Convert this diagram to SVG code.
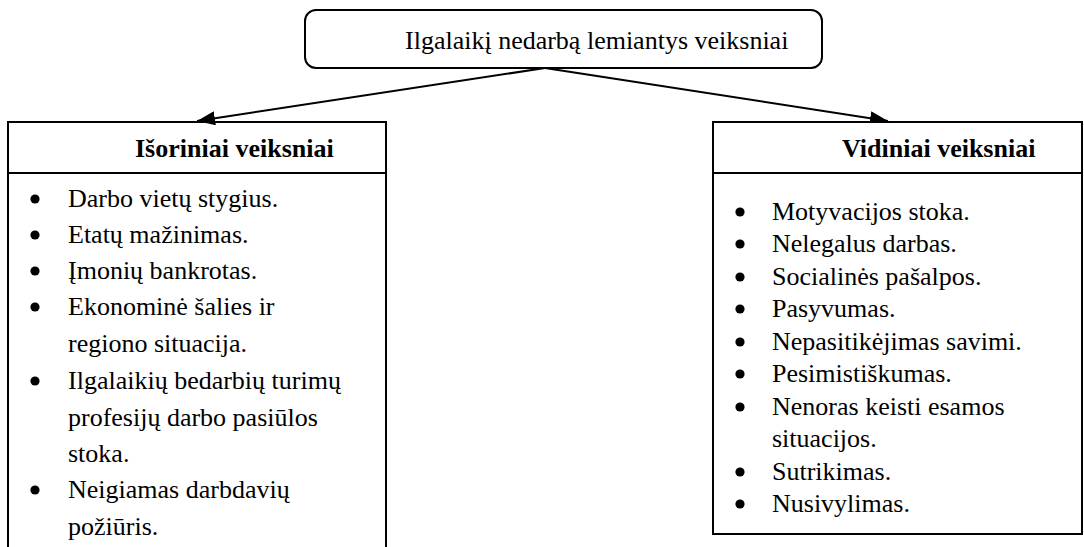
<svg xmlns="http://www.w3.org/2000/svg" width="1084" height="547" viewBox="0 0 1084 547">
  <defs>
    <marker id="arrow" viewBox="0 0 18 14" refX="18" refY="7" markerWidth="18" markerHeight="14" markerUnits="userSpaceOnUse" orient="auto">
      <path d="M0,0 L18,7 L0,14 Z" fill="#000"/>
    </marker>
    <circle id="dot" r="4.6" fill="#000"/>
    <style>
      text { font-family: "Liberation Serif", "Times New Roman", serif; font-size: 26px; fill: #000; }
      .head { font-weight: bold; }
      .box { fill: #fff; stroke: #000; stroke-width: 2; }
      .rule { stroke: #000; stroke-width: 2; fill: none; }
      .edge { stroke: #000; stroke-width: 2; fill: none; marker-end: url(#arrow); }
    </style>
  </defs>
  <rect width="1084" height="547" fill="#fff"/>

  <!-- root node -->
  <g id="root">
    <rect class="box" x="305" y="10" width="517" height="58" rx="11" ry="11"/>
    <text x="405" y="49">Ilgalaikį nedarbą lemiantys veiksniai</text>
  </g>

  <!-- connectors -->
  <g id="connectors">
    <line class="edge" x1="545" y1="68" x2="197" y2="121"/>
    <line class="edge" x1="545" y1="68" x2="888" y2="121"/>
  </g>

  <!-- external factors (box runs past the lower edge) -->
  <g id="external">
    <path class="rule" d="M8,560 V122 H386 V560"/>
    <line class="rule" x1="8" y1="173" x2="386" y2="173"/>
    <text class="head" x="135" y="157">Išoriniai veiksniai</text>
    <g>
      <use href="#dot" x="35" y="199"/><text x="68" y="207">Darbo vietų stygius.</text>
      <use href="#dot" x="35" y="235"/><text x="68" y="243">Etatų mažinimas.</text>
      <use href="#dot" x="35" y="271"/><text x="68" y="279">Įmonių bankrotas.</text>
      <use href="#dot" x="35" y="307"/><text x="68" y="315">Ekonominė šalies ir</text>
      <text x="68" y="352">regiono situacija.</text>
      <use href="#dot" x="35" y="381"/><text x="68" y="389">Ilgalaikių bedarbių turimų</text>
      <text x="68" y="426">profesijų darbo pasiūlos</text>
      <text x="68" y="462">stoka.</text>
      <use href="#dot" x="35" y="490"/><text x="68" y="498">Neigiamas darbdavių</text>
      <text x="68" y="535">požiūris.</text>
    </g>
  </g>

  <!-- internal factors -->
  <g id="internal">
    <rect class="box" x="713" y="122" width="369" height="412"/>
    <line class="rule" x1="713" y1="173" x2="1082" y2="173"/>
    <text class="head" x="842" y="157">Vidiniai veiksniai</text>
    <g>
      <use href="#dot" x="740" y="212"/><text x="772" y="220">Motyvacijos stoka.</text>
      <use href="#dot" x="740" y="244"/><text x="772" y="252">Nelegalus darbas.</text>
      <use href="#dot" x="740" y="277"/><text x="772" y="285">Socialinės pašalpos.</text>
      <use href="#dot" x="740" y="309"/><text x="772" y="317">Pasyvumas.</text>
      <use href="#dot" x="740" y="342"/><text x="772" y="350">Nepasitikėjimas savimi.</text>
      <use href="#dot" x="740" y="374"/><text x="772" y="382">Pesimistiškumas.</text>
      <use href="#dot" x="740" y="407"/><text x="772" y="415">Nenoras keisti esamos</text>
      <text x="772" y="447">situacijos.</text>
      <use href="#dot" x="740" y="472"/><text x="772" y="480">Sutrikimas.</text>
      <use href="#dot" x="740" y="504"/><text x="772" y="512">Nusivylimas.</text>
    </g>
  </g>
</svg>
